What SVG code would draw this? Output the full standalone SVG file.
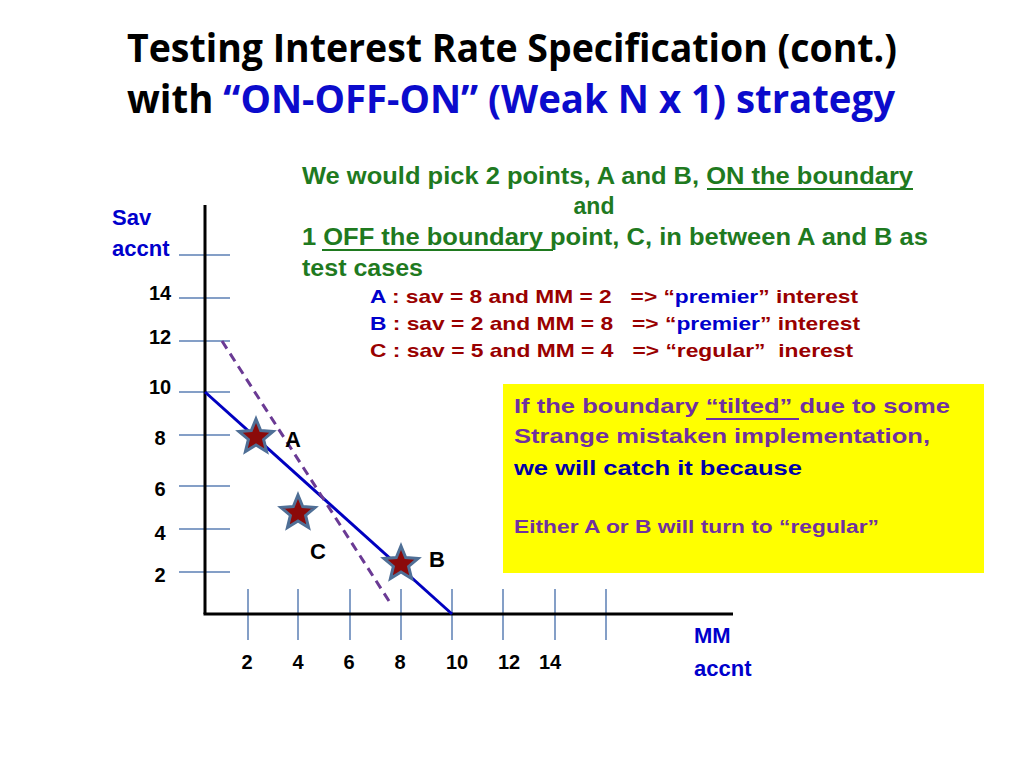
<svg xmlns="http://www.w3.org/2000/svg" width="1024" height="768" viewBox="0 0 1024 768">
<style>
.title{font-family:"Open Sans","Liberation Sans",sans-serif;font-weight:bold;font-size:40px}
.b{font-family:"Liberation Sans",Arial,sans-serif;font-weight:bold}
.grn{fill:#1f7a1f;font-size:23px}
.case{font-size:19px;fill:#990000}
.blue{fill:#0000cc}
.pur{fill:#7030a0}
.num{font-size:20px;fill:#000;text-anchor:middle}
.tick{stroke:#5b7fb5;stroke-width:1.5}
.axis{stroke:#000;stroke-width:3}
</style>
<defs>
<polygon id="star" points="0,-18 4.7,-6.47 17.12,-5.56 7.61,2.47 10.58,14.56 0,8 -10.58,14.56 -7.61,2.47 -17.12,-5.56 -4.7,-6.47" fill="#8b0a0a" stroke="#4f6f96" stroke-width="3" stroke-linejoin="miter"/>
</defs>
<rect width="1024" height="768" fill="#fff"/>

<g id="title">
<text class="title" x="127" y="62" textLength="770" lengthAdjust="spacingAndGlyphs">Testing Interest Rate Specification (cont.)</text>
<text class="title" x="127" y="113" textLength="768" lengthAdjust="spacingAndGlyphs">with <tspan fill="#0b0bcc">“ON-OFF-ON” (Weak N x 1) strategy</tspan></text>
</g>

<g id="explanation">
<text class="b grn" x="302" y="184" textLength="611" lengthAdjust="spacingAndGlyphs">We would pick 2 points, A and B, ON the boundary</text>
<line x1="707" y1="189" x2="913" y2="189" stroke="#1f7a1f" stroke-width="2"/>
<text class="b grn" x="594" y="214" text-anchor="middle">and</text>
<text class="b grn" x="302" y="245" textLength="626" lengthAdjust="spacingAndGlyphs">1 OFF the boundary point, C, in between A and B as</text>
<line x1="322" y1="250" x2="553" y2="250" stroke="#1f7a1f" stroke-width="2"/>
<text class="b grn" x="302" y="276" textLength="121" lengthAdjust="spacingAndGlyphs">test cases</text>
<text class="b case" x="370" y="303" textLength="488" lengthAdjust="spacingAndGlyphs" xml:space="preserve"><tspan class="blue">A</tspan> : sav = 8 and MM = 2   =&gt; “<tspan class="blue">premier</tspan>” interest</text>
<text class="b case" x="370" y="330" textLength="490" lengthAdjust="spacingAndGlyphs" xml:space="preserve"><tspan class="blue">B</tspan> : sav = 2 and MM = 8   =&gt; “<tspan class="blue">premier</tspan>” interest</text>
<text class="b case" x="370" y="357" textLength="483" lengthAdjust="spacingAndGlyphs" xml:space="preserve">C : sav = 5 and MM = 4   =&gt; “regular”  inerest</text>
</g>

<g id="note">
<rect x="503" y="384" width="481" height="189" fill="#ffff00"/>
<text class="b pur" x="514" y="413" font-size="21" textLength="436" lengthAdjust="spacingAndGlyphs">If the boundary “tilted” due to some</text>
<line x1="706" y1="419" x2="799" y2="419" stroke="#7030a0" stroke-width="2"/>
<text class="b pur" x="514" y="443" font-size="21" textLength="416" lengthAdjust="spacingAndGlyphs">Strange mistaken implementation,</text>
<text class="b" x="514" y="475" font-size="21" fill="#0000a8" textLength="288" lengthAdjust="spacingAndGlyphs">we will catch it because</text>
<text class="b pur" x="514" y="533" font-size="18" textLength="365" lengthAdjust="spacingAndGlyphs">Either A or B will turn to “regular”</text>
</g>

<g id="grid">
<line class="tick" x1="179" y1="255" x2="230" y2="255"/>
<line class="tick" x1="179" y1="298" x2="230" y2="298"/>
<line class="tick" x1="179" y1="341" x2="230" y2="341"/>
<line class="tick" x1="179" y1="392" x2="230" y2="392"/>
<line class="tick" x1="179" y1="435" x2="230" y2="435"/>
<line class="tick" x1="179" y1="486" x2="230" y2="486"/>
<line class="tick" x1="179" y1="529" x2="230" y2="529"/>
<line class="tick" x1="179" y1="572" x2="230" y2="572"/>
<line class="tick" x1="248" y1="589" x2="248" y2="640"/>
<line class="tick" x1="298" y1="589" x2="298" y2="640"/>
<line class="tick" x1="350" y1="589" x2="350" y2="640"/>
<line class="tick" x1="401" y1="589" x2="401" y2="640"/>
<line class="tick" x1="452" y1="589" x2="452" y2="640"/>
<line class="tick" x1="503" y1="589" x2="503" y2="640"/>
<line class="tick" x1="555" y1="589" x2="555" y2="640"/>
<line class="tick" x1="606" y1="589" x2="606" y2="640"/>
</g>

<g id="axes">
<line class="axis" x1="205" y1="205" x2="205" y2="614"/>
<line class="axis" x1="203.5" y1="614" x2="733" y2="614"/>
<text class="b blue" x="112" y="225" font-size="22">Sav</text>
<text class="b blue" x="112" y="256" font-size="22">accnt</text>
<text class="b blue" x="694" y="643" font-size="22">MM</text>
<text class="b blue" x="694" y="676" font-size="22">accnt</text>
<text class="b num" x="160" y="300">14</text>
<text class="b num" x="160" y="344">12</text>
<text class="b num" x="160" y="394">10</text>
<text class="b num" x="160" y="445">8</text>
<text class="b num" x="160" y="496">6</text>
<text class="b num" x="160" y="540">4</text>
<text class="b num" x="160" y="582">2</text>
<text class="b num" x="247" y="669">2</text>
<text class="b num" x="298" y="669">4</text>
<text class="b num" x="349" y="669">6</text>
<text class="b num" x="400" y="669">8</text>
<text class="b num" x="457" y="669">10</text>
<text class="b num" x="509" y="669">12</text>
<text class="b num" x="550" y="669">14</text>
</g>

<g id="connectors">
<line x1="205" y1="392" x2="452" y2="614" stroke="#0000c0" stroke-width="3"/>
<line x1="222" y1="341" x2="389" y2="601" stroke="#6a3a94" stroke-width="3" stroke-dasharray="9,6"/>
</g>

<g id="pointA"><use href="#star" x="256" y="437"/><text class="b" x="293" y="447" font-size="22" text-anchor="middle">A</text></g>
<g id="pointC"><use href="#star" x="298" y="513"/><text class="b" x="318" y="559" font-size="22" text-anchor="middle">C</text></g>
<g id="pointB"><use href="#star" x="401" y="564"/><text class="b" x="437" y="567" font-size="22" text-anchor="middle">B</text></g>
</svg>
